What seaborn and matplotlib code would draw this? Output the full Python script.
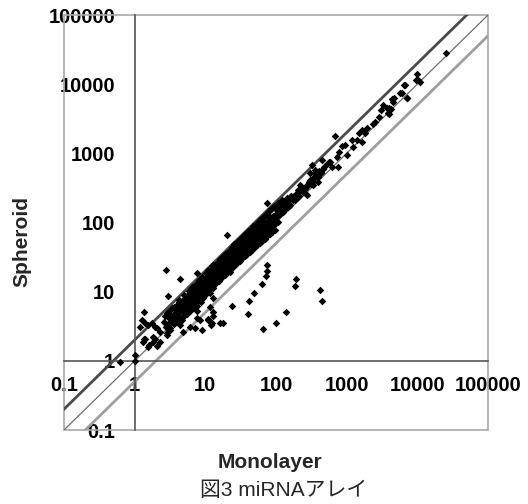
import numpy as np
import pandas as pd
import matplotlib
matplotlib.use("Agg")
import matplotlib.pyplot as plt
import seaborn as sns
from matplotlib.patches import Rectangle

# main band of points (Monolayer, Spheroid)
band_x = [2.6, 2.7, 2.8, 2.9, 3.0, 3.1, 3.1, 3.2, 3.3, 3.4, 3.4, 3.5, 3.6, 3.6, 3.7, 3.8, 3.9, 4.0, 4.0, 4.1,
          4.2, 4.3, 4.4, 4.5, 4.6, 4.7, 4.8, 4.9, 5.0, 5.0,
          5.1, 5.2, 5.3, 5.4, 5.5, 5.6, 5.7, 5.8, 5.9, 6.0, 6.1, 6.2, 6.3, 6.4, 6.5, 6.6, 6.7, 6.8, 6.9, 7.0,
          7.1, 7.2, 7.4, 7.5, 7.6, 7.7, 7.8, 8.0, 8.1, 8.3, 8.4, 8.6, 8.7, 8.9, 9.0, 9.2, 9.4, 9.5, 9.7, 9.9,
          10.1, 10.3, 10.5, 10.7, 10.9, 11.1, 11.3, 11.5, 11.8, 12.0, 12.2, 12.4, 12.7, 12.9, 13.2, 13.4, 13.7,
          14.0, 14.2, 14.5, 14.8, 15.1, 15.4, 15.7, 16.0, 16.3, 16.6, 17.0, 17.3, 17.7, 18.0, 18.4, 18.8, 19.2,
          19.5, 19.9, 20.3, 16.8, 13.0, 11.0,
          20.7, 21.1, 21.6, 22.0, 22.5, 23.0, 23.4, 23.9, 24.4, 24.9, 25.4, 26.0, 26.5, 27.0, 27.6, 28.2, 28.8,
          29.4, 30.0, 30.6, 31.2, 31.9, 32.5, 33.2, 33.9, 34.6, 35.3, 36.0, 36.8, 37.5, 38.3, 39.1, 39.9, 40.7,
          41.6, 42.4, 43.3, 44.2, 45.1, 46.1, 47.0, 48.0, 49.0, 50.0, 35.0,
          51.0, 52.1, 53.2, 54.3, 55.4, 56.5, 57.7, 58.9, 60.1, 61.4, 62.6, 63.9, 65.3, 66.6, 68.0, 69.4, 70.9,
          72.4, 73.9, 75.4, 77.0, 78.6, 80.2, 81.9, 83.6, 85.3, 87.1, 88.9, 90.8, 92.7, 94.6, 96.6, 98.6,
          105, 112, 118, 125, 133, 140, 150, 160, 170, 185, 195, 210, 230, 250, 265, 290, 310, 340, 370, 410,
          460, 520, 560,
          4.2, 5.0, 5.8, 6.5, 7.3, 8.2, 9.1, 10.2, 11.6, 12.6, 14.4, 15.9, 17.5, 19.0, 21.4, 23.6, 25.8, 28.5,
          31.0, 34.1, 37.2, 40.3, 44.0, 47.8, 52.5, 57.0, 62.0, 67.5, 73.0, 80.0, 86.0, 94.0,
          5.6, 7.3, 9.6, 12.5, 15.5, 19.8, 25.0, 32.0, 41.0, 52.0, 66.0, 84.0,
          6.0, 8.0, 10.5, 13.5, 18.0, 23.5, 30.5, 39.0, 50.0, 64.0, 82.0,
          110, 120, 130, 145, 155, 165, 180, 200, 220, 240, 260, 280, 300, 330, 360, 390, 440, 480]
band_y = [3.6, 4.4, 3.1, 4.9, 3.4, 5.3, 4.1, 3.0, 4.6, 5.8, 3.7, 4.2, 6.1, 3.4, 4.9, 5.5, 4.0, 6.4, 4.6, 3.6,
          5.2, 7.0, 4.3, 5.9, 3.9, 6.6, 5.0, 7.6, 4.5, 5.8,
          6.9, 5.1, 8.3, 6.0, 4.8, 7.4, 9.0, 5.7, 6.6, 8.1, 5.2, 9.8, 7.0, 6.1, 8.8, 10.5, 5.9, 7.7, 9.4, 6.6,
          11.4, 8.4, 7.1, 10.1, 6.2, 12.5, 9.0, 7.6, 11.0, 13.4, 8.3, 7.0, 10.3, 14.3, 9.2, 12.0, 8.1, 15.5, 10.7, 13.1,
          9.4, 16.4, 11.8, 14.0, 10.1, 17.8, 12.9, 15.2, 10.9, 19.2, 14.1, 16.6, 12.0, 21.0, 15.3, 18.1, 13.0,
          22.6, 16.5, 19.8, 14.1, 24.4, 17.9, 21.3, 15.2, 26.5, 19.4, 23.1, 16.3, 28.4, 21.0, 25.0, 17.7, 30.6,
          22.7, 26.9, 19.0, 30.0, 24.0, 20.5,
          33.0, 24.5, 29.0, 20.7, 35.6, 26.5, 31.3, 22.3, 38.4, 28.5, 33.9, 24.1, 41.2, 30.8, 36.5, 26.0, 44.5,
          33.2, 39.4, 28.0, 47.9, 35.8, 42.3, 30.3, 51.6, 38.5, 45.6, 32.6, 55.5, 41.6, 49.0, 35.1, 59.8, 44.8,
          52.8, 37.8, 64.2, 48.2, 56.8, 40.6, 69.0, 51.8, 61.1, 43.8, 60.0,
          74.5, 55.7, 65.6, 47.1, 80.0, 59.9, 70.6, 50.7, 85.9, 64.4, 75.9, 54.5, 92.4, 69.2, 81.6, 58.6, 99.3,
          74.4, 87.7, 63.0, 106.7, 80.0, 94.3, 67.7, 114.7, 86.0, 101.4, 72.8, 123.3, 92.4, 108.9, 78.3, 132.5,
          150, 128, 165, 140, 190, 160, 205, 180, 230, 210, 260, 240, 300, 280, 330, 380, 360, 450, 480, 560,
          600, 700, 760,
          7.6, 8.9, 10.2, 11.8, 13.0, 14.9, 16.3, 18.5, 20.8, 23.5, 26.0, 29.4, 32.8, 35.5, 39.0, 44.0, 48.5, 53.0,
          57.5, 63.0, 69.5, 75.0, 81.0, 88.0, 96.0, 104, 113, 122, 134, 146, 158, 171,
          5.3, 6.9, 9.0, 11.6, 14.5, 18.4, 23.5, 30.0, 38.5, 49.0, 62.0, 80.0,
          9.0, 12.0, 15.5, 20.0, 26.5, 35.0, 45.5, 58.0, 74.0, 95.0, 122,
          170, 150, 175, 200, 175, 245, 240, 225, 290, 310, 300, 350, 410, 400, 520, 450, 540, 640]

# upper range of the band
high_x = [684, 947, 1000, 787, 737, 760, 581, 613, 443, 430, 320, 356, 376, 303, 320, 397, 337, 272, 218, 207,
          243, 272, 158, 176, 142, 120, 127, 108, 97, 114, 82, 78, 70, 82, 97, 149, 66, 59, 108,
          850, 1180, 1220, 1380, 1510, 1630, 1630, 1790, 1920, 2330, 2520, 2900, 3040, 3300, 3680, 3850, 3960,
          4010, 4200, 4440, 4480, 4670, 5680, 6000, 6470, 6690, 7070, 7210, 9600, 9790, 10300, 10900, 25400]
high_y = [1780, 1320, 946, 1056, 894, 641, 757, 641, 800, 514, 678, 574, 459, 514, 411, 389, 348, 348, 348, 295,
          279, 250, 236, 211, 223, 211, 179, 189, 160, 143, 152, 121, 103, 97, 115, 169, 121, 97, 103,
          1280, 1540, 1250, 1560, 1990, 2170, 1470, 1950, 2300, 2650, 2860, 3390, 4230, 5000, 4480, 3790, 4480,
          3660, 4330, 6100, 5580, 6240, 7380, 7380, 9720, 9720, 6300, 6240, 11500, 13900, 11500, 10900, 28500]

# low end near (1, 1)
low_x = [0.62, 1.0, 1.0, 1.36, 1.57, 1.84, 2.05, 2.28, 2.84, 1.26, 1.19, 1.40, 1.56, 1.74, 1.94, 2.05, 2.28,
         1.40, 1.32, 1.56, 1.94, 1.84, 2.84, 3.16]
low_y = [0.97, 1.2, 1.0, 2.05, 1.69, 2.23, 1.64, 1.89, 2.5, 3.9, 3.1, 3.5, 3.3, 3.5, 3.1, 2.95, 2.64,
         2.1, 1.9, 1.6, 2.1, 1.9, 2.36, 2.8]

# scattered points off the band
out_x = [75, 75, 73, 63, 49, 42, 40, 65, 100, 140, 190, 185, 420, 450, 24, 18, 12, 11, 13, 12.7, 13, 11.6,
         8.9, 7.1, 7.7, 7.7, 11.6, 6.07, 8.4, 11.0, 12.3, 16.1, 4.9, 4.4, 22, 13,
         2.75, 4.4, 20, 3.0, 1.36, 7.5, 74, 19]
out_y = [24, 20, 17, 13, 9.5, 7.3, 4.7, 2.9, 3.5, 5.0, 15, 12, 10.5, 7.3, 6.2, 3.5, 3.3, 4.0, 4.4, 5.1, 8.2, 9.5,
         2.8, 2.95, 4.1, 5.3, 6.1, 3.1, 3.9, 3.9, 3.5, 3.5, 2.6, 3.3, 19, 11.2,
         20.5, 15, 66, 8.6, 5.0, 18.8, 189, 19]

ticks = [0.1, 1, 10, 100, 1000, 10000, 100000]
tick_labels = ["0.1", "1", "10", "100", "1000", "10000", "100000"]
fold_lines = [2, 1, 0.5]

df = pd.DataFrame({"Monolayer": band_x + high_x + low_x + out_x,
                   "Spheroid": band_y + high_y + low_y + out_y})

sns.set_style("white")
plt.rcParams['font.family'] = ['Liberation Sans', 'Noto Sans CJK JP', 'DejaVu Sans']

fig = plt.figure(figsize=(5.28, 5.04), dpi=100)
ax = fig.add_axes([64 / 528, 74 / 504, 424 / 528, 415 / 504])
ax.set_xscale("log")
ax.set_yscale("log")
ax.set_xlim(0.1, 100000)
ax.set_ylim(0.1, 100000)

# fold-change reference lines
line_styles = [("#4a4a4a", 2.0), ("#6e6e6e", 0.9), ("#9e9e9e", 2.0)]
xl = np.array([0.05, 200000])
for f, (c, lw) in zip(fold_lines, line_styles):
    ax.plot(xl, xl * f, color=c, lw=lw, zorder=2)

sns.scatterplot(data=df, x="Monolayer", y="Spheroid", marker="D", color="black",
                s=15, linewidth=0, ax=ax, zorder=3)

# axes cross at (1, 1)
for side in ["top", "right"]:
    ax.spines[side].set_visible(False)
ax.spines["left"].set_position(("data", 1))
ax.spines["bottom"].set_position(("data", 1))
for side in ["left", "bottom"]:
    ax.spines[side].set_color("#555555")
    ax.spines[side].set_linewidth(1.2)
ax.add_patch(Rectangle((0, 0), 1, 1, transform=ax.transAxes, fill=False,
                       edgecolor="#a8a8a8", lw=1.2, clip_on=False, zorder=1))

ax.set_xticks(ticks)
ax.set_xticklabels(tick_labels)
ax.set_yticks(ticks)
ax.set_yticklabels(tick_labels)
ax.minorticks_off()
ax.tick_params(axis="both", direction="in", length=4, width=1, color="#555555",
               labelsize=14.5, labelcolor="black")
ax.tick_params(axis="y", pad=14)
ax.tick_params(axis="x", pad=11)
for lab in ax.get_xticklabels() + ax.get_yticklabels():
    lab.set_fontweight("bold")
ax.set_xlabel("")
ax.set_ylabel("")

fig.text(22 / 528, 1 - 241 / 504, "Spheroid", rotation=90, ha="center", va="center",
         fontsize=15, fontweight="bold")
fig.text(270 / 528, 1 - 462 / 504, "Monolayer", ha="center", va="center",
         fontsize=15, fontweight="bold")
fig.text(284 / 528, 1 - 491 / 504, "図3 miRNAアレイ", ha="center", va="center", fontsize=15)

fig.savefig("out.png", dpi=100)
